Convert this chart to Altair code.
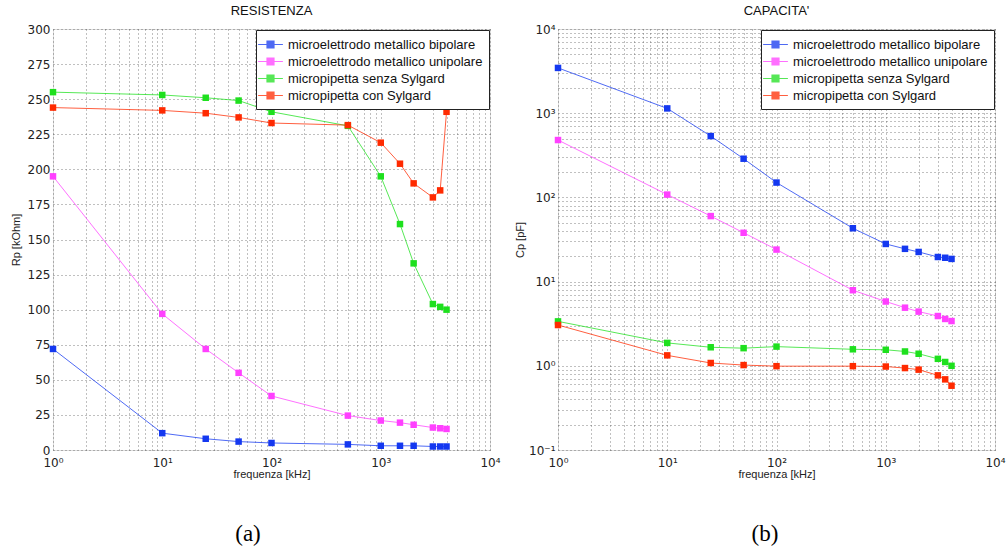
import altair as alt
import pandas as pd

freq = [1, 10, 25, 50, 100, 500, 1000, 1500, 2000, 3000, 3500, 4000]
series = ["microelettrodo metallico bipolare", "microelettrodo metallico unipolare",
          "micropipetta senza Sylgard", "micropipetta con Sylgard"]
colors = ["#1438f0", "#ff40ff", "#1ee01e", "#ff2a00"]

# Resistance Rp [kOhm]
rp_bip = [72, 12, 8, 6, 5, 4, 3, 3, 3, 2.5, 2.5, 2.5]
rp_uni = [195, 97, 72, 55, 38.5, 24.5, 21, 19.5, 18, 16, 15.5, 15]
rp_senza = [255, 253, 251, 249, 241, 231, 195, 161, 133, 104, 102, 100]
rp_con = [244, 242, 240, 237, 233, 231.5, 219, 204, 190, 180, 185, 241]

# Capacitance Cp [pF]
cp_bip = [3450, 1140, 535, 288, 150, 43, 28, 24.5, 22.5, 19.6, 19.2, 18.6]
cp_uni = [480, 108, 60, 38, 24, 7.9, 5.8, 4.9, 4.4, 3.9, 3.6, 3.4]
cp_senza = [3.37, 1.87, 1.66, 1.62, 1.69, 1.57, 1.55, 1.48, 1.39, 1.21, 1.11, 1.0]
cp_con = [3.05, 1.33, 1.08, 1.02, 0.99, 0.99, 0.98, 0.94, 0.90, 0.77, 0.69, 0.58]

def frame(vals_list):
    rows = []
    for name, vals in zip(series, vals_list):
        for f, v in zip(freq, vals):
            rows.append({"f": f, "v": v, "s": name})
    return pd.DataFrame(rows)

df_r = frame([rp_bip, rp_uni, rp_senza, rp_con])
df_c = frame([cp_bip, cp_uni, cp_senza, cp_con])

FONT = "Liberation Sans"
W, H = 437, 421

sup_expr = ("(round(log(datum.value)/LN10)==-1?'10⁻¹':"
            "round(log(datum.value)/LN10)==0?'10⁰':"
            "round(log(datum.value)/LN10)==1?'10¹':"
            "round(log(datum.value)/LN10)==2?'10²':"
            "round(log(datum.value)/LN10)==3?'10³':"
            "round(log(datum.value)/LN10)==4?'10⁴':'')")
major_expr = "abs(log(datum.value)/LN10 - round(log(datum.value)/LN10)) < 0.001 ? " + sup_expr + " : ''"

x_vals = [m * 10 ** k for k in range(4) for m in range(1, 10)] + [10000]
y_log_vals = [round(m * 10 ** k, 6) for k in range(-1, 4) for m in range(1, 10)] + [10000]

grid_kw = dict(grid=True, gridDash=[1, 3], gridColor="#555555", gridOpacity=0.75, gridWidth=1,
               ticks=False, domain=False, labelFont="DejaVu Sans", labelFontSize=12, labelColor="#222222",
               titleFont=FONT, titleFontSize=11, titleFontWeight="normal", titleColor="#222222")

legend_symbol = "M-1.6,0H1.6M-0.45,-0.45H0.45V0.45H-0.45Z"

def make_panel(df, title, yscale, yaxis, caption, cap_dx):
    xenc = alt.X("f:Q", scale=alt.Scale(type="log", domain=[1, 10000], nice=False),
                 axis=alt.Axis(values=x_vals, labelExpr=major_expr, title="frequenza [kHz]",
                               labelPadding=7, titlePadding=0, labelFlush=False, **grid_kw))
    color = alt.Color("s:N", scale=alt.Scale(domain=series, range=colors),
                      legend=alt.Legend(title=None, orient="top-right", offset=1,
                                        fillColor="white", strokeColor="#222222", padding=6,
                                        labelFont=FONT, labelFontSize=13, labelColor="#111111",
                                        symbolType=legend_symbol, symbolSize=240, labelOffset=9,
                                        symbolStrokeWidth=1.2, rowPadding=1, labelLimit=400))
    base = alt.Chart(df).encode(x=xenc, y=alt.Y("v:Q", scale=yscale, axis=yaxis), color=color)
    lines = base.mark_line(strokeWidth=1, opacity=0.75, point=alt.OverlayMarkDef(
        shape="square", filled=True, size=42, opacity=1))
    cap = alt.Chart(pd.DataFrame({"t": [caption]})).mark_text(
        font="Liberation Serif", fontSize=23, color="black", baseline="middle", align="center"
    ).encode(text="t:N", x=alt.value(cap_dx), y=alt.value(H + 84))
    return alt.layer(lines, cap).properties(
        width=W, height=H,
        title=alt.TitleParams(title, font=FONT, fontSize=13, fontWeight=500, color="#111111", offset=5))

left = make_panel(
    df_r, "RESISTENZA",
    alt.Scale(domain=[0, 300], nice=False),
    alt.Axis(values=list(range(0, 301, 25)), title="Rp [kOhm]", titlePadding=6, labelPadding=3, **grid_kw),
    "(a)", 195)

right = make_panel(
    df_c, "CAPACITA'",
    alt.Scale(type="log", domain=[0.1, 10000], nice=False),
    alt.Axis(values=y_log_vals, labelExpr=major_expr, title="Cp [pF]", titlePadding=3, labelPadding=3,
             labelFlush=False, **grid_kw),
    "(b)", 207)

chart = alt.hconcat(left, right, spacing=13).resolve_scale(color="independent").resolve_legend(
    color="independent").properties(
    padding={"left": 9, "top": 4, "right": 0, "bottom": 0}
).configure_view(stroke="#333333", strokeWidth=1).configure(background="white")

chart.save("out.html", embed_options={"renderer": "svg", "actions": False})
